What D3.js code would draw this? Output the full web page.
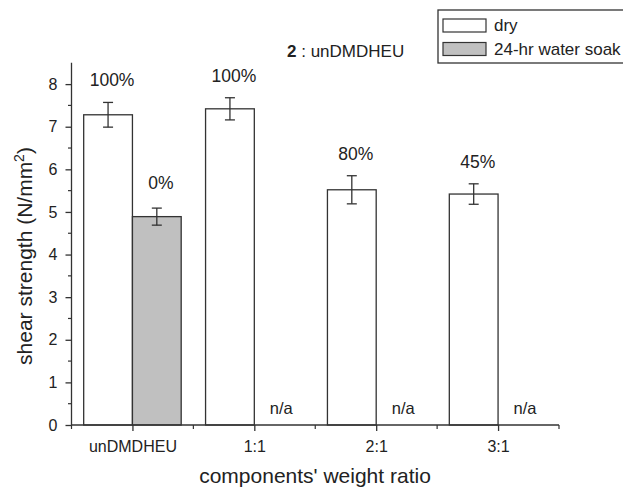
<!DOCTYPE html>
<html><head><meta charset="utf-8">
<script src="https://cdn.jsdelivr.net/npm/d3@7"></script>
<style>body{margin:0;background:#fff}text{font-family:"Liberation Sans",Arial,sans-serif;fill:#222}</style>
</head><body><svg id="c" width="623" height="493"></svg>
<script>
const categories = ["unDMDHEU","1:1","2:1","3:1"];
const dry = [7.28, 7.42, 5.52, 5.42];
const dryErr = [0.29, 0.26, 0.33, 0.24];
const soak = [4.89, null, null, null];
const soakErr = [0.2, null, null, null];
const dryLabels = ["100%","100%","80%","45%"];
const soakLabels = ["0%","n/a","n/a","n/a"];
const yTicks = [0,1,2,3,4,5,6,7,8];
const seriesNames = ["dry","24-hr water soak"];
const colors = {dry:"#ffffff", soak:"#c0c0c0"};

const svg = d3.select("#c");
const stroke = "#333";
const x = d3.scaleLinear().domain([0.5, 4.5]).range([71.5, 559]);
const y = d3.scaleLinear().domain([0, 8.5]).range([425, 62.8]);
const bw = 0.4;

const g = svg.append("g");
categories.forEach((c,i)=>{
  const cx = i+1;
  g.append("rect").attr("x", x(cx-bw)).attr("width", x(cx)-x(cx-bw))
   .attr("y", y(dry[i])).attr("height", y(0)-y(dry[i]))
   .attr("fill", colors.dry).attr("stroke", stroke).attr("stroke-width",1.3);
  if (soak[i] != null) {
    g.append("rect").attr("x", x(cx)).attr("width", x(cx+bw)-x(cx))
     .attr("y", y(soak[i])).attr("height", y(0)-y(soak[i]))
     .attr("fill", colors.soak).attr("stroke", stroke).attr("stroke-width",1.3);
  }
});
function err(xc, v, e){
  const px = x(xc);
  g.append("line").attr("x1",px).attr("x2",px).attr("y1",y(v-e)).attr("y2",y(v+e)).attr("stroke",stroke).attr("stroke-width",1.3);
  [v-e, v+e].forEach(t=>g.append("line").attr("x1",px-5).attr("x2",px+5).attr("y1",y(t)).attr("y2",y(t)).attr("stroke",stroke).attr("stroke-width",1.3));
}
categories.forEach((c,i)=>{
  err(i+1-bw/2, dry[i], dryErr[i]);
  if (soak[i]!=null) err(i+1+bw/2, soak[i], soakErr[i]);
});
categories.forEach((c,i)=>{
  g.append("text").attr("x", x(i+1-bw/2)+4).attr("y", y(dry[i]+dryErr[i])-16)
   .attr("text-anchor","middle").attr("font-size",17.5).text(dryLabels[i]);
  if (soak[i]!=null) {
    g.append("text").attr("x", x(i+1+bw/2)+4).attr("y", y(soak[i]+soakErr[i])-19)
     .attr("text-anchor","middle").attr("font-size",17.5).text(soakLabels[i]);
  } else {
    g.append("text").attr("x", x(i+1)+27).attr("y", y(0)-11)
     .attr("text-anchor","middle").attr("font-size",16.5).text(soakLabels[i]);
  }
});

const yAxis = d3.axisLeft(y).tickValues(yTicks).tickSize(6).tickPadding(8).tickFormat(d3.format("d"));
const ya = svg.append("g").attr("transform",`translate(${x(0.5)},0)`).call(yAxis);
ya.append("g").selectAll("line").data(d3.range(0.5,8.5,1)).join("line")
  .attr("x1",-3.5).attr("x2",0).attr("y1",d=>y(d)).attr("y2",d=>y(d)).attr("stroke",stroke).attr("stroke-width",1.2);
const xAxis = d3.axisBottom(x).tickValues([1,2,3,4]).tickSize(6).tickPadding(10).tickFormat(d=>categories[d-1]);
const xa = svg.append("g").attr("transform",`translate(0,${y(0)})`).call(xAxis);
xa.append("g").selectAll("line").data([0.5,1.5,2.5,3.5,4.5]).join("line")
  .attr("x1",d=>x(d)).attr("x2",d=>x(d)).attr("y1",0).attr("y2",4).attr("stroke",stroke).attr("stroke-width",1.2);
[ya,xa].forEach(a=>{
  a.select(".domain").attr("stroke",stroke).attr("stroke-width",1.3);
  a.selectAll(".tick line").attr("stroke",stroke).attr("stroke-width",1.3);
  a.selectAll(".tick text").attr("font-family","Liberation Sans, Arial, sans-serif").attr("fill","#222");
});
ya.selectAll(".tick text").attr("font-size",16);
xa.selectAll(".tick text").attr("font-size",16);
ya.select(".domain").attr("d",`M0,${y(8.5)}V${y(0)}`);
xa.select(".domain").attr("d",`M${x(0.5)},0H${x(4.5)}`);

svg.append("text").attr("transform","translate(32,256) rotate(-90)").attr("text-anchor","middle")
  .attr("font-size",21).html('shear strength (N/mm<tspan font-size="14" dy="-8">2</tspan><tspan dy="8">)</tspan>');
svg.append("text").attr("x",315).attr("y",483).attr("text-anchor","middle").attr("font-size",21).text("components' weight ratio");

svg.append("text").attr("x",287).attr("y",57).attr("font-size",17)
  .html('<tspan font-weight="bold">2</tspan> : unDMDHEU');

const lg = svg.append("g");
lg.append("rect").attr("x",438).attr("y",10).attr("width",200).attr("height",53).attr("fill","#fff").attr("stroke",stroke).attr("stroke-width",1.3);
[colors.dry, colors.soak].forEach((col,i)=>{
  lg.append("rect").attr("x",443).attr("y",19+i*23.5).attr("width",43).attr("height",13).attr("fill",col).attr("stroke",stroke).attr("stroke-width",1.2);
  lg.append("text").attr("x",494).attr("y",31+i*23.5).attr("font-size",17).text(seriesNames[i]);
});
</script></body></html>
